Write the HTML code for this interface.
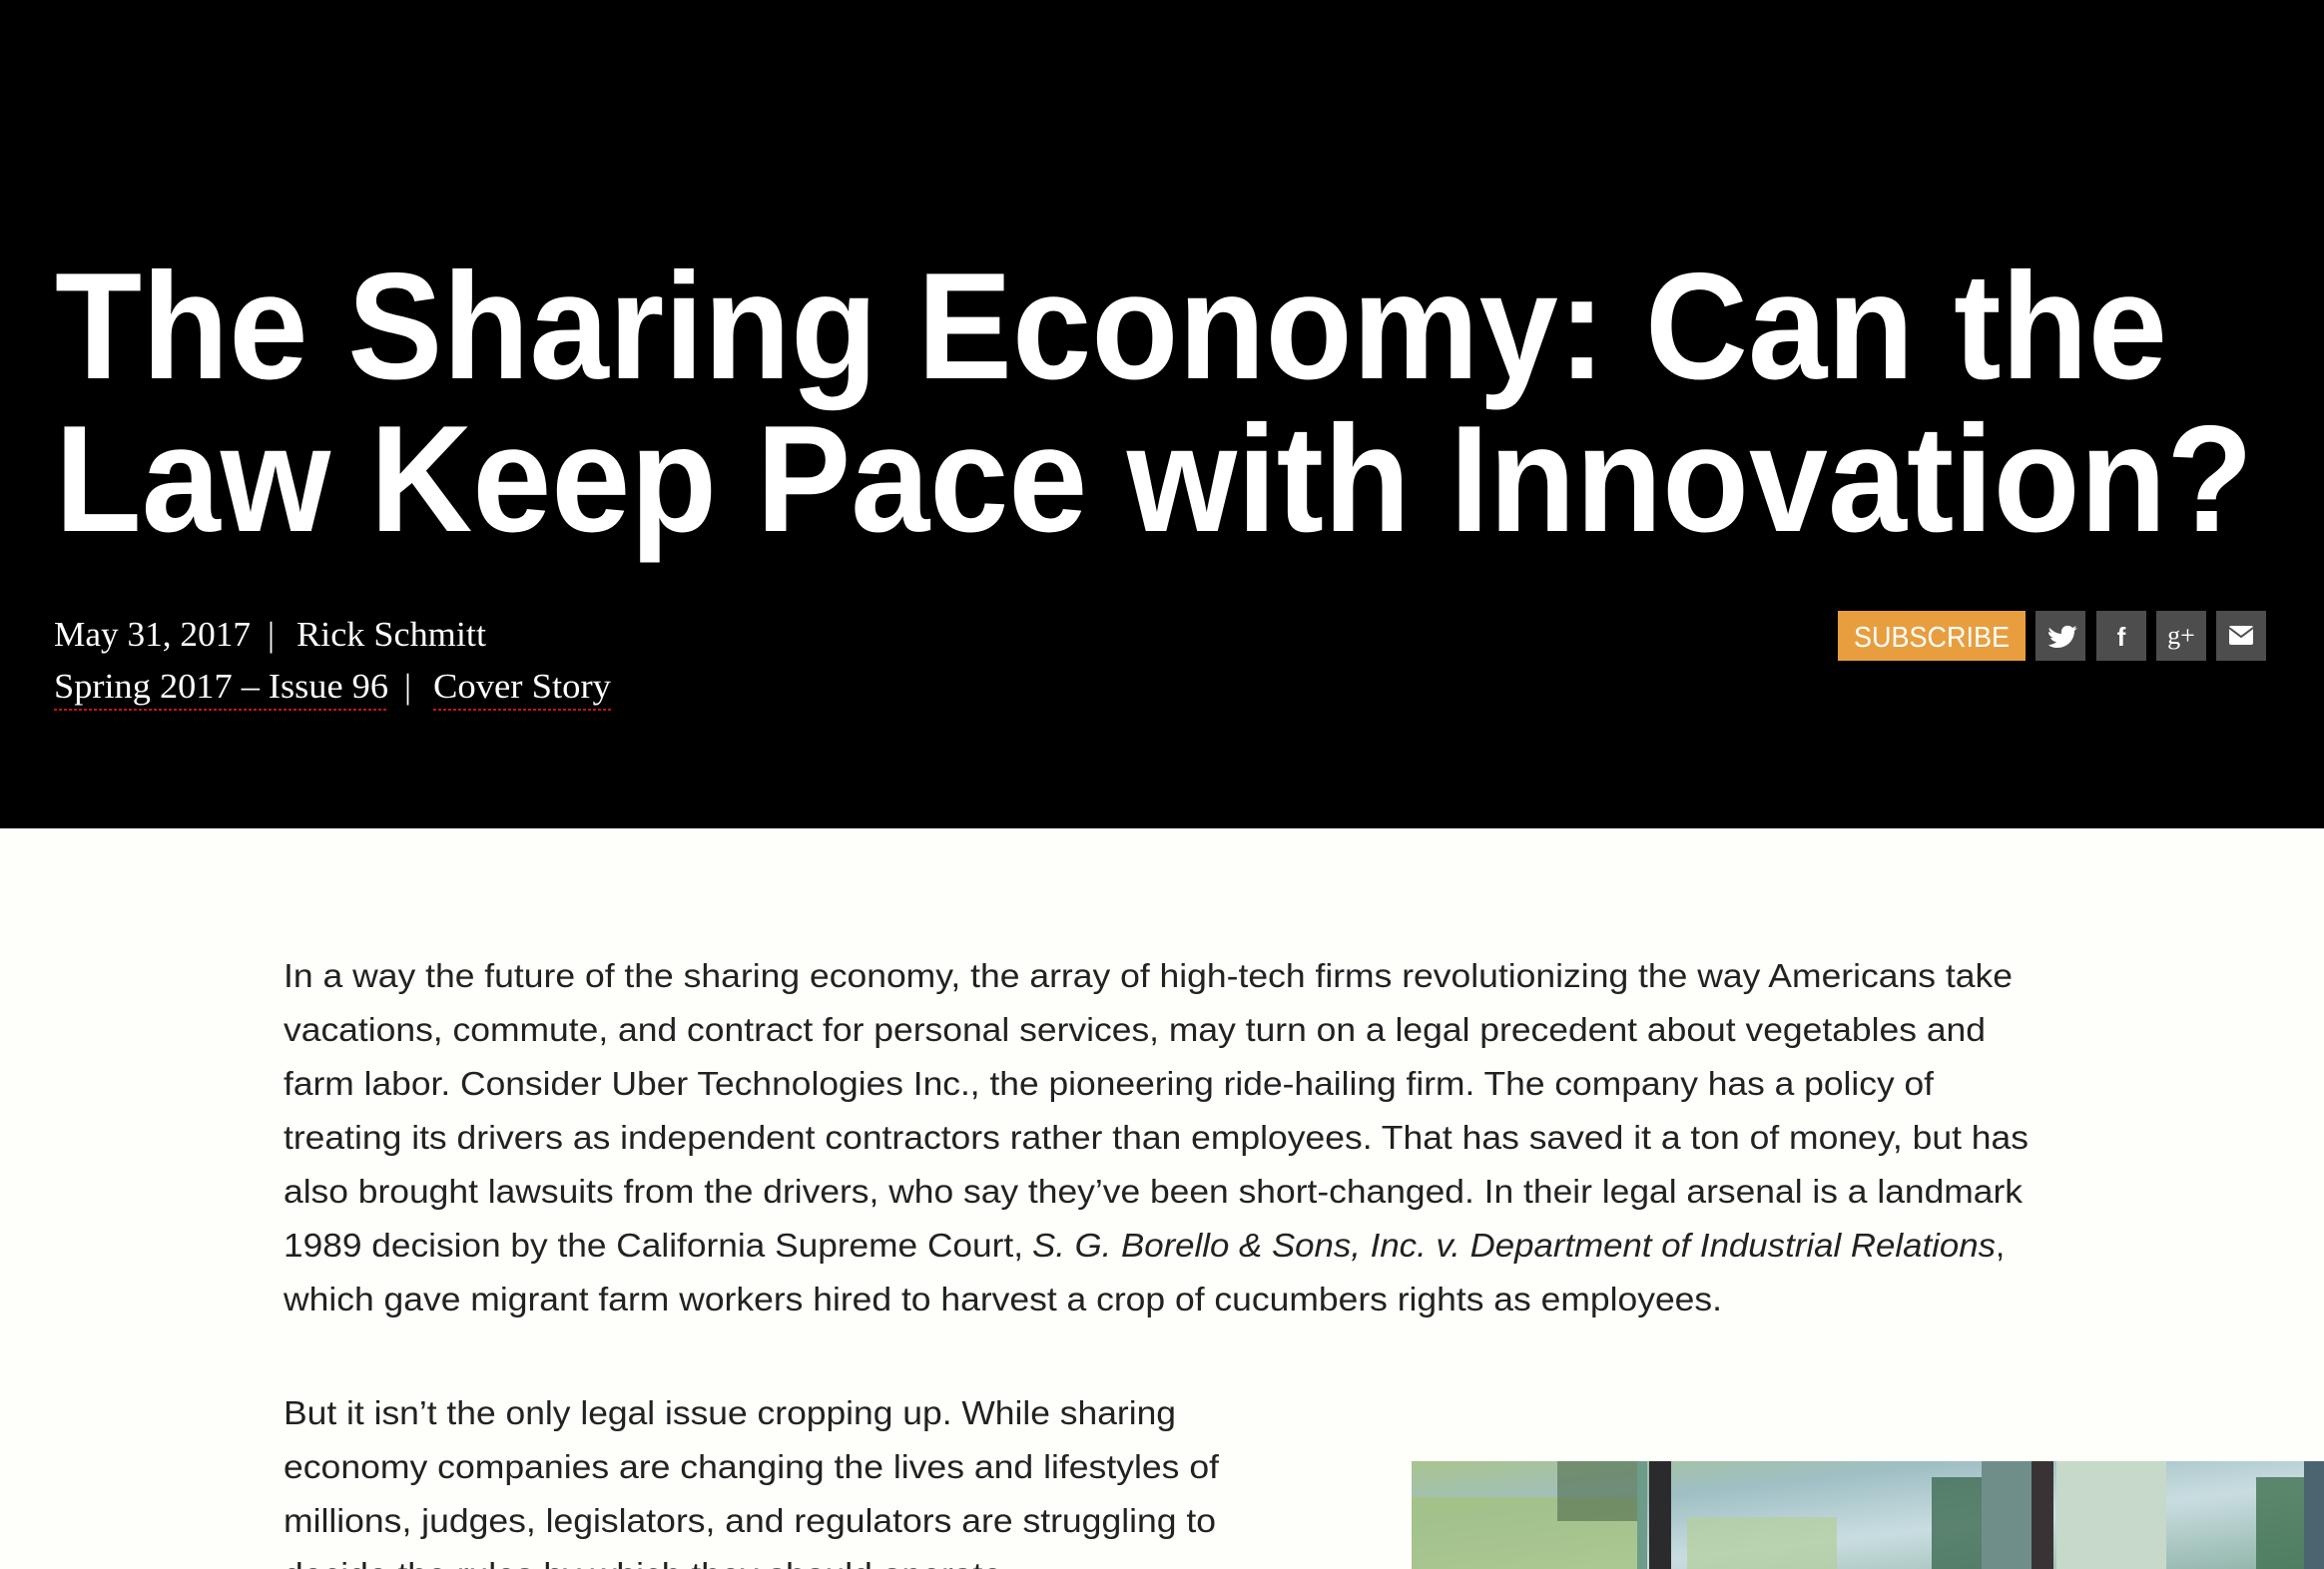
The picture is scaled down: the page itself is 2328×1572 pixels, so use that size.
<!DOCTYPE html>
<html><head><meta charset="utf-8"><style>
html,body{margin:0;padding:0;background:#fefffb;}
svg{display:block;}
</style></head><body>
<svg width="2328" height="1572" viewBox="0 0 2328 1572" xmlns="http://www.w3.org/2000/svg">
<defs>
<linearGradient id="sky" x1="0" y1="0" x2="1" y2="1">
<stop offset="0" stop-color="#a9c48e"/><stop offset="0.3" stop-color="#9fbfc4"/><stop offset="0.6" stop-color="#c9dde0"/><stop offset="1" stop-color="#8fb3a8"/>
</linearGradient>
</defs>
<rect x="0" y="0" width="2328" height="830" fill="#000"/>
<rect x="0" y="830" width="2328" height="742" fill="#fefffb"/>
<g font-family="'Liberation Sans', sans-serif" font-weight="bold" font-size="152" fill="#fff">
<text x="55" y="379" textLength="2116" lengthAdjust="spacingAndGlyphs">The Sharing Economy: Can the</text>
<text x="55" y="532" textLength="2202" lengthAdjust="spacingAndGlyphs">Law Keep Pace with Innovation?</text>
</g>
<g font-family="'Liberation Serif', serif" font-size="35" fill="#fff">
<text x="54" y="647" textLength="197" lengthAdjust="spacingAndGlyphs">May 31, 2017</text>
<text x="268" y="647">|</text>
<text x="297" y="647" textLength="190" lengthAdjust="spacingAndGlyphs">Rick Schmitt</text>
<text x="54" y="699" textLength="335" lengthAdjust="spacingAndGlyphs">Spring 2017 – Issue 96</text>
<text x="405" y="699">|</text>
<text x="434" y="699" textLength="178" lengthAdjust="spacingAndGlyphs">Cover Story</text>
</g>
<line x1="54" y1="711" x2="389" y2="711" stroke="#c0161c" stroke-width="2" stroke-dasharray="3,2"/>
<line x1="434" y1="711" x2="612" y2="711" stroke="#c0161c" stroke-width="2" stroke-dasharray="3,2"/>
<g>
<rect x="1841" y="612" width="188" height="50" fill="#e89e3f"/>
<text x="1935" y="648" text-anchor="middle" font-family="'Liberation Sans', sans-serif" font-size="29" fill="#fff" textLength="156" lengthAdjust="spacingAndGlyphs">SUBSCRIBE</text>
</g>
<g>
<rect x="2039" y="612" width="50" height="50" fill="#4d4d4d"/>
<path d="M2053 629c4 4 8 6 12 6-1-5 3-9 7-8 2 0 3 1 4 2l4-2-2 3 3-1-3 3c0 9-7 17-17 17-4 0-7-1-9-3 3 0 6-1 8-3-3 0-5-2-6-4h3c-3-1-5-3-5-6l3 1c-2-2-3-4-2-5z" fill="#fff"/>
</g>
<g>
<rect x="2100" y="612" width="50" height="50" fill="#4d4d4d"/>
<text x="2125" y="647" text-anchor="middle" font-family="'Liberation Sans', sans-serif" font-weight="bold" font-size="26" fill="#fff">f</text>
</g>
<g>
<rect x="2160" y="612" width="50" height="50" fill="#4d4d4d"/>
<text x="2185" y="645" text-anchor="middle" font-family="'Liberation Serif', serif" font-size="26" fill="#fff">g+</text>
</g>
<g>
<rect x="2220" y="612" width="50" height="50" fill="#4d4d4d"/>
<rect x="2233" y="627" width="24" height="19" rx="2" fill="#fff"/>
<path d="M2233 629l12 9 12-9" fill="none" stroke="#4d4d4d" stroke-width="2"/>
</g>
<g font-family="'Liberation Sans', sans-serif" font-size="33" fill="#222">
<text x="284" y="989" textLength="1732" lengthAdjust="spacingAndGlyphs">In a way the future of the sharing economy, the array of high-tech firms revolutionizing the way Americans take</text>
<text x="284" y="1043" textLength="1705" lengthAdjust="spacingAndGlyphs">vacations, commute, and contract for personal services, may turn on a legal precedent about vegetables and</text>
<text x="284" y="1097" textLength="1653" lengthAdjust="spacingAndGlyphs">farm labor. Consider Uber Technologies Inc., the pioneering ride-hailing firm. The company has a policy of</text>
<text x="284" y="1151" textLength="1748" lengthAdjust="spacingAndGlyphs">treating its drivers as independent contractors rather than employees. That has saved it a ton of money, but has</text>
<text x="284" y="1205" textLength="1742" lengthAdjust="spacingAndGlyphs">also brought lawsuits from the drivers, who say they’ve been short-changed. In their legal arsenal is a landmark</text>
<text x="284" y="1259" textLength="741" lengthAdjust="spacingAndGlyphs">1989 decision by the California Supreme Court,</text>
<text x="1034" y="1259" font-style="italic" textLength="965" lengthAdjust="spacingAndGlyphs">S. G. Borello &amp; Sons, Inc. v. Department of Industrial Relations</text>
<text x="1999" y="1259">,</text>
<text x="284" y="1313" textLength="1441" lengthAdjust="spacingAndGlyphs">which gave migrant farm workers hired to harvest a crop of cucumbers rights as employees.</text>
</g>
<g font-family="'Liberation Sans', sans-serif" font-size="33" fill="#222">
<text x="284" y="1427" textLength="894" lengthAdjust="spacingAndGlyphs">But it isn’t the only legal issue cropping up. While sharing</text>
<text x="284" y="1481" textLength="937" lengthAdjust="spacingAndGlyphs">economy companies are changing the lives and lifestyles of</text>
<text x="284" y="1535" textLength="934" lengthAdjust="spacingAndGlyphs">millions, judges, legislators, and regulators are struggling to</text>
<text x="284" y="1589" textLength="730" lengthAdjust="spacingAndGlyphs">decide the rules by which they should operate.</text>
</g>
<g>
<rect x="1414" y="1464" width="914" height="108" fill="url(#sky)"/>
<rect x="1414" y="1500" width="230" height="72" fill="#a4c27e" opacity="0.8"/>
<rect x="1560" y="1464" width="80" height="60" fill="#4f6b4c" opacity="0.6"/>
<rect x="1640" y="1464" width="10" height="108" fill="#6d9c8a"/>
<rect x="1652" y="1464" width="22" height="108" fill="#2b2a2c"/>
<rect x="1690" y="1520" width="150" height="52" fill="#b4cf9a" opacity="0.7"/>
<rect x="1935" y="1480" width="50" height="92" fill="#3f6b52" opacity="0.8"/>
<rect x="1985" y="1464" width="50" height="108" fill="#6f8e8a"/>
<rect x="2035" y="1464" width="22" height="108" fill="#3a3335"/>
<rect x="2060" y="1464" width="110" height="108" fill="#c7d9c8"/>
<rect x="2260" y="1480" width="48" height="92" fill="#3f7050" opacity="0.8"/>
<rect x="2308" y="1464" width="20" height="108" fill="#4a6470"/>
</g>
</svg>
</body></html>
